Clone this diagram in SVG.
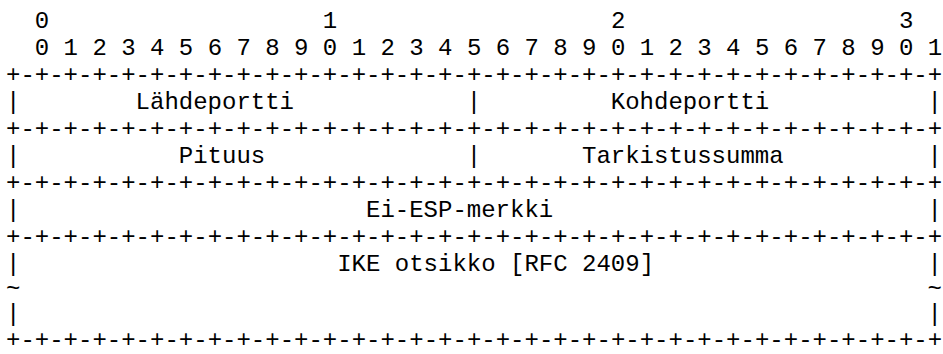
<svg xmlns="http://www.w3.org/2000/svg" width="943" height="354" viewBox="0 0 943 354">
<style>
text{font-family:"Liberation Mono","Courier New",monospace;font-size:24px;fill:#000;white-space:pre}
</style>
<rect width="943" height="354" fill="#fff"/>
<g id="ruler">
<text x="6" y="28" xml:space="preserve">  0                   1                   2                   3</text>
<text x="6" y="55" xml:space="preserve">  0 1 2 3 4 5 6 7 8 9 0 1 2 3 4 5 6 7 8 9 0 1 2 3 4 5 6 7 8 9 0 1</text>
</g>
<g id="borders">
<text x="6" y="82">+-+-+-+-+-+-+-+-+-+-+-+-+-+-+-+-+-+-+-+-+-+-+-+-+-+-+-+-+-+-+-+-+</text>
<text x="6" y="136">+-+-+-+-+-+-+-+-+-+-+-+-+-+-+-+-+-+-+-+-+-+-+-+-+-+-+-+-+-+-+-+-+</text>
<text x="6" y="190">+-+-+-+-+-+-+-+-+-+-+-+-+-+-+-+-+-+-+-+-+-+-+-+-+-+-+-+-+-+-+-+-+</text>
<text x="6" y="244">+-+-+-+-+-+-+-+-+-+-+-+-+-+-+-+-+-+-+-+-+-+-+-+-+-+-+-+-+-+-+-+-+</text>
<text x="6" y="347">+-+-+-+-+-+-+-+-+-+-+-+-+-+-+-+-+-+-+-+-+-+-+-+-+-+-+-+-+-+-+-+-+</text>
</g>
<g id="row1">
<text x="6" y="109">|</text>
<text x="135.6" y="109">Lähdeportti</text>
<text x="466.8" y="109">|</text>
<text x="610.8" y="109">Kohdeportti</text>
<text x="927.6" y="109">|</text>
</g>
<g id="row2">
<text x="6" y="163">|</text>
<text x="178.8" y="163">Pituus</text>
<text x="466.8" y="163">|</text>
<text x="582" y="163">Tarkistussumma</text>
<text x="927.6" y="163">|</text>
</g>
<g id="row3">
<text x="6" y="217">|</text>
<text x="366" y="217">Ei-ESP-merkki</text>
<text x="927.6" y="217">|</text>
</g>
<g id="row4">
<text x="6" y="271">|</text>
<text x="337.2" y="271">IKE otsikko [RFC 2409]</text>
<text x="927.6" y="271">|</text>
<text x="6" y="296">~</text>
<text x="927.6" y="296">~</text>
<text x="6" y="321">|</text>
<text x="927.6" y="321">|</text>
</g>
</svg>
